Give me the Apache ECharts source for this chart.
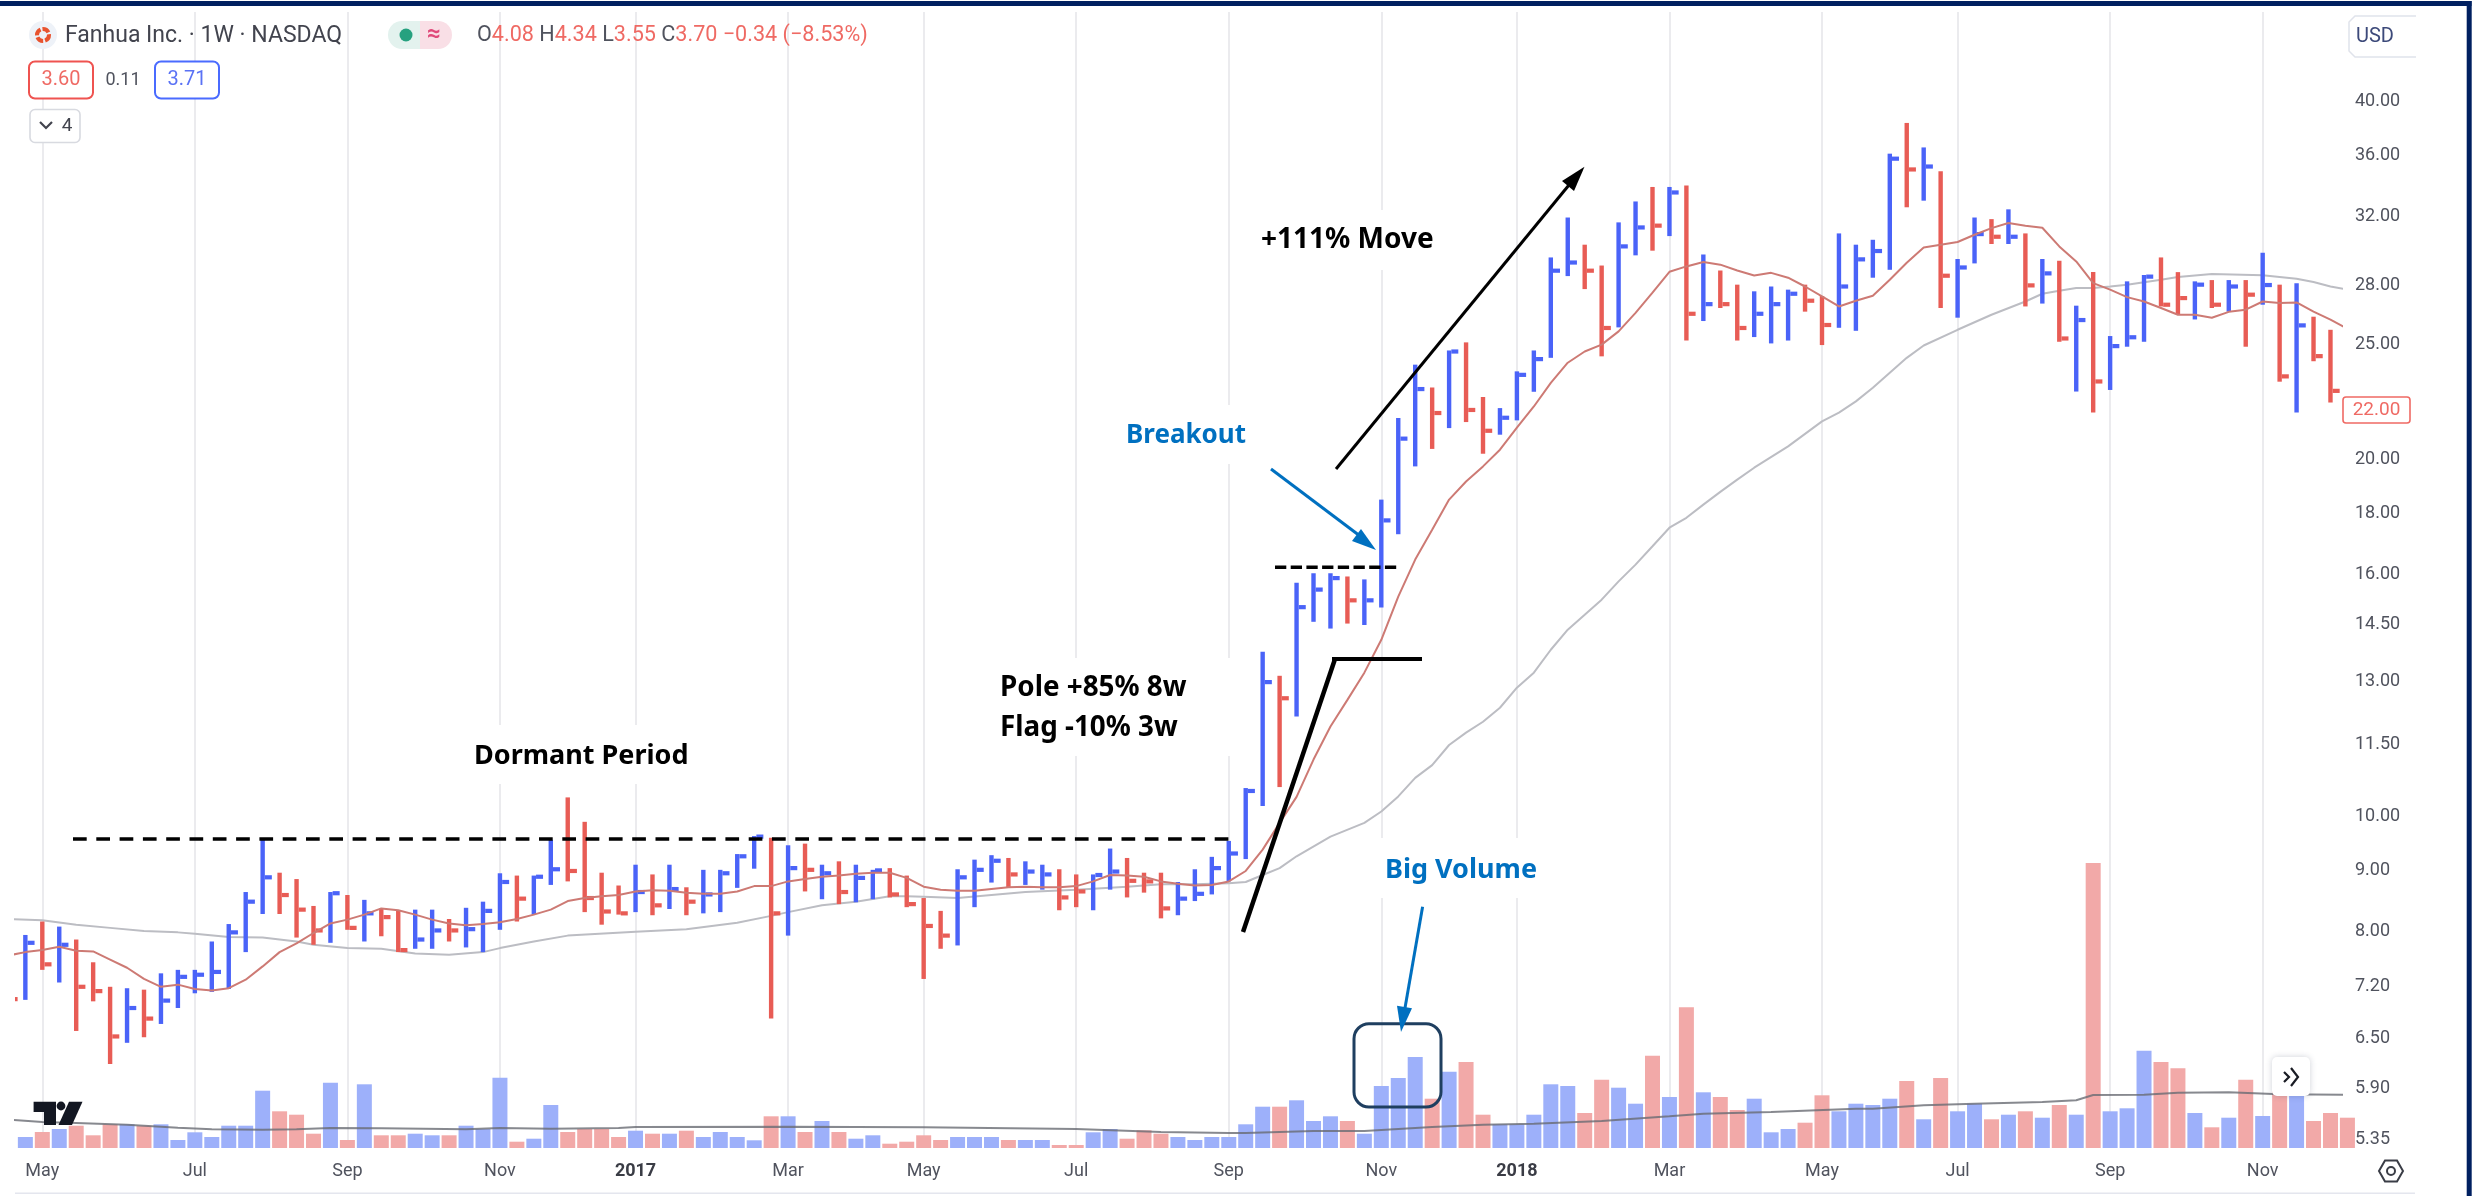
<!DOCTYPE html>
<html>
<head>
<meta charset="utf-8">
<title>Fanhua Inc. weekly</title>
<script src="https://cdn.jsdelivr.net/npm/echarts@6/dist/echarts.min.js"></script>
<style>html,body{margin:0;padding:0;background:#fff}#chart{width:2483px;height:1196px}</style>
</head>
<body>
<div id="chart"></div>
<script>
// Weekly bars, index 0 = week of 18 Apr 2016, index 138 = week of 10 Dec 2018
const highs = [7.40,
 7.95,8.16,8.08,7.88,7.54,7.19,7.17,7.15,7.38,
 7.43,7.43,7.85,8.12,8.64,9.58,8.97,8.86,8.41,8.64,
 8.59,8.51,8.37,8.33,8.35,8.35,8.20,8.38,8.48,8.96,
 8.92,8.92,9.56,10.38,9.90,8.97,8.75,9.11,8.94,9.11,
 8.72,9.02,9.02,9.30,9.63,9.60,9.46,9.49,9.11,9.17,
 9.11,9.02,9.05,8.92,8.54,8.33,9.03,9.20,9.28,9.23,
 9.17,9.11,9.03,8.94,8.94,9.40,9.23,8.97,8.97,8.81,
 9.03,9.25,9.54,10.57,13.77,13.14,15.74,16.03,16.03,15.93,
 15.84,18.49,21.66,24.02,22.98,24.69,25.08,22.56,22.08,23.71,
 24.69,29.57,31.95,30.31,29.11,31.65,32.96,33.90,33.90,34.00,
 29.74,28.83,28.05,27.69,27.95,27.78,28.05,27.44,30.98,30.31,
 30.60,36.16,38.38,36.60,34.94,29.48,31.95,31.85,32.46,30.98,
 29.48,29.38,26.93,28.74,25.39,28.23,28.58,29.57,28.74,28.23,
 28.30,28.30,28.30,29.84,28.05,28.13,26.36,25.70,23.00];
const lows = [6.90,
 7.01,7.43,7.25,6.60,6.99,6.19,6.45,6.52,6.69,
 6.90,7.10,7.12,7.16,7.69,8.28,8.28,7.91,7.80,7.83,
 8.03,7.85,7.93,7.69,7.74,7.74,7.85,7.76,7.69,8.03,
 8.16,8.27,8.76,8.82,8.31,8.11,8.27,8.31,8.26,8.36,
 8.26,8.29,8.31,8.71,9.04,6.76,7.94,8.65,8.52,8.44,
 8.47,8.52,8.55,8.39,7.30,7.74,7.79,8.39,8.80,8.71,
 8.76,8.68,8.34,8.39,8.34,8.68,8.55,8.63,8.21,8.26,
 8.49,8.60,8.82,9.21,10.21,10.59,12.14,14.59,14.40,14.54,
 14.50,15.00,17.29,19.72,20.40,21.24,21.49,20.21,20.97,21.56,
 22.79,24.34,28.52,27.81,24.41,25.82,29.69,29.96,30.82,25.17,
 26.14,26.81,25.17,25.34,25.03,25.17,26.62,24.95,25.80,25.65,
 28.43,28.87,32.59,33.01,26.81,26.31,29.23,30.35,30.35,26.89,
 27.04,25.11,22.80,21.89,22.87,24.87,25.11,26.89,26.48,26.22,
 26.81,26.62,24.87,26.98,23.24,21.89,24.18,22.32,21.90];
const closes = [7.02,
 7.83,7.51,7.80,7.19,7.13,6.53,6.90,6.76,7.00,
 7.33,7.36,7.40,7.99,8.48,8.89,8.59,8.35,8.02,8.62,
 8.06,8.29,8.23,7.72,7.88,8.02,8.02,8.04,8.33,8.81,
 8.53,8.90,9.03,9.00,8.54,8.32,8.29,8.64,8.42,8.69,
 8.48,8.60,8.96,9.26,9.62,8.29,9.05,9.02,8.96,8.64,
 8.88,9.01,8.60,8.44,8.09,7.94,8.89,9.02,9.18,8.94,
 8.99,8.94,8.55,8.65,8.93,8.99,8.83,8.82,8.37,8.53,
 8.61,9.05,9.31,10.51,12.98,12.58,15.01,15.53,15.88,15.21,
 15.21,17.76,20.81,22.91,21.87,24.64,22.00,21.13,21.67,23.55,
 24.28,28.82,29.28,28.82,25.79,30.21,31.34,31.45,33.54,26.51,
 27.01,27.01,25.79,26.51,27.01,27.56,27.19,25.94,27.95,29.46,
 29.94,35.81,35.07,35.27,28.54,29.00,30.94,30.78,30.78,28.01,
 28.67,25.27,26.19,23.25,24.90,25.33,28.49,26.98,27.33,28.05,
 26.98,27.95,27.51,28.03,23.48,25.92,24.42,22.83,22.00];
// 1 = up week (blue), 0 = down week (red)
const upWeek = [0,
 1,0,1,0,0,0,1,0,1,
 1,1,1,1,1,1,0,0,0,1,
 0,1,0,0,1,1,0,1,1,1,
 0,1,1,0,0,0,0,1,0,1,
 0,1,1,1,1,0,1,0,1,0,
 1,1,0,0,0,0,1,1,1,0,
 1,1,0,0,1,1,0,0,0,1,
 1,1,1,1,1,0,1,1,1,0,
 1,1,1,1,0,1,0,0,1,1,
 1,1,1,0,0,1,1,0,1,0,
 1,0,0,1,1,1,0,0,1,1,
 1,1,0,1,0,1,1,0,1,0,
 1,0,1,0,1,1,1,0,0,1,
 0,1,0,1,0,1,0,0,0];
// The first week's volume bar lies left of the visible pane
const volumes = [null,
 11,16,19,22.3,12.7,23.7,23.7,22.3,23.7,
 8,15.7,11,22.3,22.3,57.3,36.7,33.3,14.3,65.3,
 8,63.7,12.7,12.7,14.3,12.7,12.7,22.3,19,70.3,
 6.3,9.3,43,16,19,19,11,17.3,14.3,14.3,
 17.3,11,16,11,7.7,31.7,31.7,16,27,16,
 9.3,12.7,4.3,6.3,12.7,8,11,11,11,8,
 8,8,3,3,15.7,19,9.3,17.7,14.3,11,
 8,11,11,23.7,41.3,41.3,47.7,27,31.7,27,
 14.3,62,70,91,49.3,76.3,86,33.3,23.7,23.7,
 33.3,63.7,62,35,68.3,60.3,44.3,92.3,51,140.7,
 55.7,51,38,49.3,15.7,19,25.3,52.7,36.7,44.3,
 43,49.3,67,28.7,70,36.7,44.3,28.7,33.3,36.7,
 30.3,43,33.3,285,36.7,39.7,97.3,86,79.7,35,
 20.7,30.3,68.3,32,60,91,27,35,30.3];
// Faster moving average, one reading per week
const maFast = [7.64,
 7.69,7.72,7.77,7.71,7.70,7.58,7.46,7.30,7.19,
 7.22,7.16,7.14,7.17,7.29,7.48,7.69,7.82,7.98,8.13,
 8.19,8.27,8.37,8.34,8.27,8.19,8.13,8.10,8.12,8.15,
 8.20,8.27,8.35,8.49,8.54,8.57,8.59,8.65,8.67,8.66,
 8.63,8.61,8.61,8.65,8.74,8.74,8.82,8.86,8.90,8.92,
 8.95,8.97,8.97,8.88,8.73,8.68,8.66,8.66,8.69,8.72,
 8.73,8.72,8.72,8.74,8.82,8.93,8.92,8.90,8.82,8.78,
 8.75,8.76,8.82,9.00,9.38,9.88,10.39,11.17,11.91,12.54,
 13.22,14.09,15.32,16.46,17.44,18.49,19.15,19.72,20.37,21.26,
 22.15,23.19,24.11,24.64,24.97,25.62,26.56,27.62,28.76,29.06,
 29.31,29.16,28.83,28.55,28.70,28.43,27.95,27.42,26.89,27.19,
 27.45,28.32,29.27,30.15,30.31,30.47,30.90,31.30,31.61,31.45,
 31.32,30.21,29.34,28.13,27.78,27.38,27.15,26.81,26.46,26.46,
 26.31,26.61,26.72,27.15,27.07,27.10,26.62,26.21,25.75];
// Slower moving average: week index and price pairs as read
const maSlow = [[0,8.20],[2,8.18],[4,8.11],[6,8.06],[8,8.01],[10,7.99],[11,7.97],[13,7.92],[15,7.91],[17,7.85],[18,7.80],[20,7.75],[22,7.74],[24,7.67],[26,7.65],[28,7.69],[29,7.75],[31,7.85],[33,7.94],[37,8.00],[40,8.04],[43,8.14],[45,8.25],[46,8.31],[48,8.42],[50,8.48],[52,8.57],[53,8.57],[54,8.56],[56,8.54],[58,8.59],[60,8.64],[63,8.68],[66,8.73],[68,8.77],[70,8.77],[72,8.79],[73,8.81],[74,8.93],[75,9.05],[76,9.26],[78,9.62],[80,9.88],[81,10.10],[82,10.40],[83,10.78],[84,11.05],[85,11.49],[86,11.77],[87,12.02],[88,12.35],[89,12.84],[90,13.22],[91,13.82],[92,14.37],[93,14.79],[94,15.23],[95,15.78],[96,16.30],[97,16.89],[98,17.51],[99,17.85],[100,18.31],[101,18.77],[102,19.22],[103,19.67],[105,20.50],[107,21.52],[108,21.89],[109,22.37],[110,22.97],[111,23.65],[112,24.34],[113,24.93],[115,25.70],[117,26.46],[119,27.15],[120,27.56],[121,27.72],[122,27.87],[123,27.87],[124,27.95],[125,28.05],[127,28.32],[128,28.47],[130,28.64],[133,28.56],[134,28.47],[135,28.37],[136,28.19],[137,27.95],[138,27.78]];
// Volume moving average: week index and volume pairs as read
const maVolume = [[0,28.3],[2,26],[4,25],[7,23.3],[10,20.3],[12,18.7],[15,18.3],[17,18.7],[19,20],[22,19.7],[27,18.7],[29,20],[32,19.3],[36,20],[37,21],[46,21.3],[54,20.7],[63,19],[68,16],[72,15],[73,15],[77,17],[80,17],[84,21],[87,23.3],[90,24.3],[94,27],[98,31.7],[100,34.3],[104,36],[109,39.3],[110,39.3],[113,42.7],[116,44.3],[120,46],[122,47.7],[123,53],[126,53.3],[128,55.3],[131,55.7],[134,53.7],[138,53.3]];
const priceTicks = [5.35,5.90,6.50,7.20,8,9,10,11.5,13,14.5,16,18,20,25,28,32,36,40];
const monthTickWeeks = [2,11,20,29,37,46,54,63,72,81,89,98,107,115,124,133];
const monthTickLabels = ['May','Jul','Sep','Nov','2017','Mar','May','Jul','Sep','Nov','2018','Mar','May','Jul','Sep','Nov'];

const BLUE='#4a63f8', RED='#e85c55', VBLUE='#9db0fa', VRED='#f2a9a8';
const UI='Roboto, sans-serif', NOTE='"Noto Sans", sans-serif';
const NAVY='#002060', ARROW='#0070c0';

const hlc = highs.map((h,i)=>[i,h,lows[i],closes[i],upWeek[i]]);
const volBars = volumes.map((v,i)=>({value:[i,v],itemStyle:{color:upWeek[i]?VBLUE:VRED}})).filter(b=>b.value[1]!==null);

function renderHlc(params, api){
  const i=api.value(0), hi=api.coord([i,api.value(1)]), lo=api.coord([i,api.value(2)]), cl=api.coord([i,api.value(3)]);
  const color=api.value(4)?BLUE:RED, sw=4.4, tw=7, th=4.2, x=hi[0];
  return {type:'group',children:[
    {type:'rect',shape:{x:x-sw/2,y:hi[1],width:sw,height:lo[1]-hi[1]},style:{fill:color}},
    {type:'rect',shape:{x:x+sw/2,y:cl[1]-th/2,width:tw,height:th},style:{fill:color}}
  ]};
}

const mask=(x,y,w,h)=>({type:'rect',z:1,silent:true,shape:{x,y,width:w,height:h},style:{fill:'#fff'}});
const note=(text,x,y,fill,size)=>({type:'text',z:60,silent:true,style:{text,x,y:y+1.5,fill:fill||'#000',font:`700 ${size||27}px ${NOTE}`,textVerticalAlign:'middle'}});
const seg=(x1,y1,x2,y2,stroke,w,dash)=>({type:'line',z:55,silent:true,shape:{x1,y1,x2,y2},style:{stroke,lineWidth:w,lineDash:dash||null}});
const tri=(points,fill)=>({type:'polygon',z:56,silent:true,shape:{points},style:{fill}});
const ui=(text,x,y,fill,size,align,weight)=>({type:'text',z:70,silent:true,style:{text,x,y,fill,font:`${weight||400} ${size||20}px ${UI}`,textAlign:align||'left',textVerticalAlign:'middle'}});
const box=(x,y,w,h,r,stroke,lw,fill,z)=>({type:'rect',z:z||65,silent:true,shape:{x,y,width:w,height:h,r},style:{stroke,lineWidth:lw,fill:fill||'transparent'}});

const graphics=[
  mask(460,725,240,59), mask(985,658,250,98), mask(1370,838,180,60), mask(1110,405,150,59), mask(1250,210,190,60),
  // annotations
  seg(73,839,1230,839,'#000',3.5,[13.7,9.6]),
  seg(1275,567.3,1398,567.3,'#000',3.5,[11.3,4.4]),
  seg(1243,932,1335,659,'#000',4.5),
  seg(1332,659,1422,659,'#000',3.8),
  seg(1336,469,1578,174,'#000',3),
  tri([[1584.5,166.7],[1562,181],[1574,191]],'#000'),
  seg(1271,469,1360,536,ARROW,3),
  tri([[1376,550],[1361,529],[1352,541]],ARROW),
  {type:'rect',z:54,silent:true,shape:{x:1354,y:1023.7,width:87,height:83.3,r:15},style:{stroke:'#1f3f60',lineWidth:3,fill:'transparent'}},
  seg(1422.6,906.7,1405,1008,ARROW,3),
  tri([[1401,1032],[1397,1005.7],[1412,1008.3]],ARROW),
  note('Dormant Period',474,755),
  note('Pole +85% 8w',1000,687,'#000',27.8),
  note('Flag -10% 3w',1000,727,'#000',27.8),
  note('+111% Move',1261,239,'#000',28),
  note('Breakout',1126,434,ARROW,26),
  note('Big Volume',1385,869,ARROW),
  // frame
  {type:'rect',z:90,silent:true,shape:{x:0,y:1,width:2471.5,height:5},style:{fill:NAVY}},
  {type:'rect',z:90,silent:true,shape:{x:2466.7,y:1,width:5,height:1195},style:{fill:NAVY}},
  {type:'rect',z:5,silent:true,shape:{x:15,y:1192.5,width:2400,height:1.6},style:{fill:'#e4e6ee'}},
  // header
  {type:'circle',z:65,silent:true,shape:{cx:43,cy:35,r:14},style:{fill:'#eef2f8'}},
  {type:'circle',z:66,silent:true,shape:{cx:43,cy:35,r:6},style:{fill:'transparent',stroke:'#e8532f',lineWidth:4,lineDash:[7,2]}},
  ui('Fanhua Inc. · 1W · NASDAQ',65,36,'#42444e',23),
  {type:'rect',z:65,silent:true,shape:{x:388,y:21,width:32,height:28,r:[14,0,0,14]},style:{fill:'#e3f2ee'}},
  {type:'rect',z:65,silent:true,shape:{x:420,y:21,width:32,height:28,r:[0,14,14,0]},style:{fill:'#f9dfe6'}},
  {type:'circle',z:66,silent:true,shape:{cx:406,cy:35,r:6.5},style:{fill:'#26a17f'}},
  ui('≈',434,35,'#e0497a',24,'center',700),
  {type:'text',z:70,silent:true,style:{x:477,y:36,textVerticalAlign:'middle',
    text:'{k|O}{v|4.08} {k|H}{v|4.34} {k|L}{v|3.55} {k|C}{v|3.70} {v|−0.34 (−8.53%)}',
    font:`400 21.6px ${UI}`,rich:{k:{fill:'#50535e',font:`400 21.6px ${UI}`},v:{fill:'#ef6a64',font:`400 21.6px ${UI}`}}}},
  box(29,61.5,64,37,6,'#ef5350',2,'#fff'),
  ui('3.60',61,80,'#ef6a64',20,'center'),
  ui('0.11',123,80,'#50535e',18,'center'),
  box(155,61.5,64,37,6,'#4a6bff',2,'#fff'),
  ui('3.71',187,80,'#5a72f5',20,'center'),
  box(30,109.5,50,33,5,'#d8dae0',1.6,'#fff'),
  {type:'polyline',z:70,silent:true,shape:{points:[[40,122],[46,128],[52,122]]},style:{stroke:'#42444e',lineWidth:2.2,fill:'none'}},
  ui('4',67,126,'#42444e',19,'center'),
  // price scale furniture
  {type:'polyline',z:65,silent:true,shape:{points:[[2416,16],[2355,16],[2349,22],[2349,51],[2355,57],[2416,57]]},style:{stroke:'#e0e3eb',lineWidth:1.5,fill:'#fff'}},
  ui('USD',2356,37,'#3d4a7a',20),
  box(2343,397,67,26,3,'#ef6a64',1.6,'#fff'),
  ui('22.00',2376.5,410.5,'#ef6a64',19,'center'),
  // settings + go-to-realtime
  {type:'polygon',z:65,silent:true,shape:{points:[[2379,1171],[2385,1160.5],[2397,1160.5],[2403,1171],[2397,1181.5],[2385,1181.5]]},style:{stroke:'#3a3d46',lineWidth:2,fill:'#fff'}},
  {type:'circle',z:66,silent:true,shape:{cx:2391,cy:1171,r:4},style:{stroke:'#3a3d46',lineWidth:2,fill:'#fff'}},
  {type:'rect',z:80,silent:true,shape:{x:2272,y:1057,width:38,height:39,r:5},style:{fill:'#fff',shadowBlur:6,shadowColor:'rgba(40,50,80,0.22)'}},
  {type:'polyline',z:81,silent:true,shape:{points:[[2284,1072],[2289,1077],[2284,1082]]},style:{stroke:'#1a1c24',lineWidth:2.2,fill:'none'}},
  {type:'polyline',z:81,silent:true,shape:{points:[[2291,1068],[2298,1077],[2291,1086]]},style:{stroke:'#1a1c24',lineWidth:2.2,fill:'none'}},
  // TV mark
  tri([[33.6,1101.7],[56,1101.7],[56,1125],[44,1125],[44,1112],[33.6,1112]],'#131722'),
  {type:'circle',z:56,silent:true,shape:{cx:61,cy:1106,r:4.4},style:{fill:'#131722'}},
  tri([[69,1101.7],[82.5,1101.7],[72,1125],[58.5,1125]],'#131722')
];

const chart=echarts.init(document.getElementById('chart'),null,{renderer:'canvas'});
chart.setOption({
  animation:false,
  backgroundColor:'#fff',
  grid:{left:15,right:141,top:12,bottom:48,containLabel:false},
  tooltip:{show:false},
  xAxis:{type:'value',min:0.389,max:137.68,
    axisLine:{show:false},
    axisTick:{show:false,customValues:monthTickWeeks},
    splitLine:{show:true,lineStyle:{color:'#e5e5e8',width:1.5}},
    axisLabel:{show:true,customValues:monthTickWeeks,margin:14,color:'#50535e',fontFamily:'Roboto',fontSize:18,
      hideOverlap:false,showMinLabel:true,showMaxLabel:true,
      formatter:v=>{const l=monthTickLabels[monthTickWeeks.indexOf(v)];return /^\d/.test(l)?'{y|'+l+'}':l;},
      rich:{y:{fontWeight:700,color:'#3a3c45',fontFamily:'Roboto',fontSize:18}}}},
  yAxis:[
    {type:'log',logBase:10,position:'right',min:5.26,max:47.59,
      axisLine:{show:false},splitLine:{show:false},minorSplitLine:{show:false},
      axisTick:{show:false,customValues:priceTicks},
      axisLabel:{show:true,customValues:priceTicks,margin:13,color:'#50535e',fontFamily:'Roboto',fontSize:18,
        showMinLabel:true,showMaxLabel:true,hideOverlap:false,formatter:v=>Number(v).toFixed(2)}},
    {type:'value',min:0,max:1136,show:false,splitLine:{show:false}}
  ],
  graphic:{elements:graphics},
  series:[
    {name:'Volume',type:'bar',xAxisIndex:0,yAxisIndex:1,barWidth:15,data:volBars,silent:true,z:2},
    {name:'Volume MA',type:'line',xAxisIndex:0,yAxisIndex:1,data:maVolume,showSymbol:false,silent:true,z:3,clip:true,
      lineStyle:{color:'rgba(105,108,115,0.8)',width:2}},
    {name:'Slow MA',type:'line',data:maSlow,showSymbol:false,silent:true,z:4,clip:true,lineStyle:{color:'#bcbdc3',width:2}},
    {name:'Fanhua Inc.',type:'custom',data:hlc,encode:{x:0,y:[1,2,3]},renderItem:renderHlc,clip:true,silent:true,z:5},
    {name:'Fast MA',type:'line',data:maFast.map((v,i)=>[i,v]),showSymbol:false,silent:true,z:6,clip:true,lineStyle:{color:'#cd7a74',width:2}}
  ]
});
</script>
</body>
</html>
